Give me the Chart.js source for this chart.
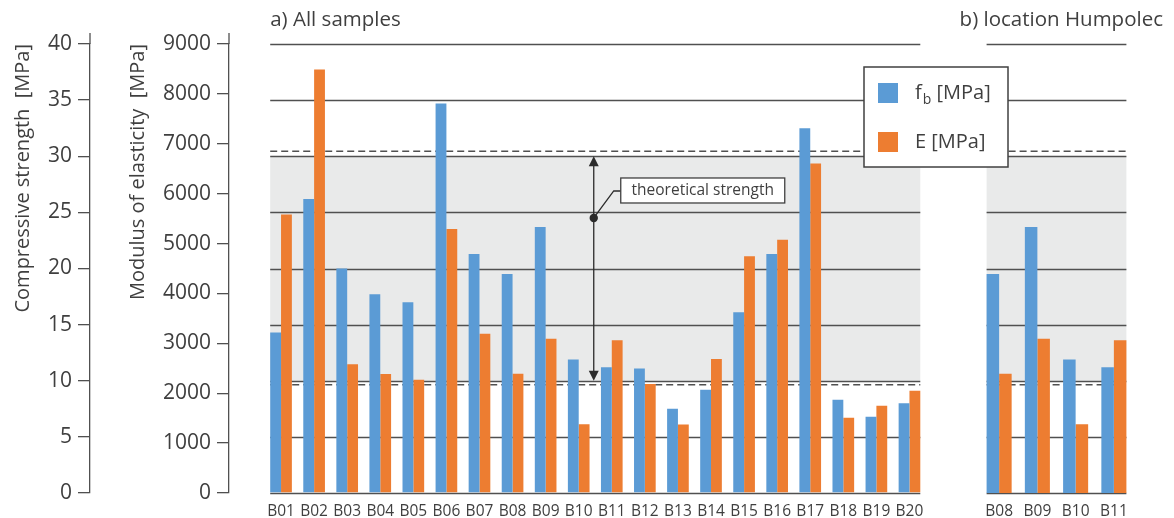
<!DOCTYPE html>
<html>
<head>
<meta charset="utf-8">
<script src="https://cdn.jsdelivr.net/npm/chart.js@4.4.1/dist/chart.umd.min.js"></script>
<style>
  html, body { margin: 0; padding: 0; background: #fff; }
  #wrap { position: relative; width: 1174px; height: 518px; }
  #wrap canvas { position: absolute; left: 0; top: 0; }
</style>
</head>
<body>
<div id="wrap">
  <canvas id="allSamples" width="1174" height="518"></canvas>
  <canvas id="humpolec" width="1174" height="518"></canvas>
</div>
<script>
// ---- data ----
const samples = ['B01','B02','B03','B04','B05','B06','B07','B08','B09','B10',
                 'B11','B12','B13','B14','B15','B16','B17','B18','B19','B20'];
// compressive strength f_b [MPa]
const strengthFb = [14.3, 26.2, 20.0, 17.7, 17.0, 34.7, 21.3, 19.5, 23.7, 11.9,
                    11.2, 11.1, 7.5, 9.2, 16.1, 21.3, 32.5, 8.3, 6.8, 8.0];
// modulus of elasticity E [MPa]
const modulusE = [5580, 8490, 2580, 2385, 2270, 5290, 3190, 2390, 3090, 1380,
                  3060, 2185, 1375, 2685, 4745, 5075, 6605, 1510, 1750, 2050];
// samples taken at the Humpolec location
const humpolecSamples = ['B08', 'B09', 'B10', 'B11'];
const humpolecFb = humpolecSamples.map(s => strengthFb[samples.indexOf(s)]);
const humpolecE = humpolecSamples.map(s => modulusE[samples.indexOf(s)]);

// axis ranges / tick steps
const strengthRange = [0, 40], strengthStep = 5;
const modulusRange = [0, 9000], modulusStep = 1000;

// theoretical strength band, its dashed limits and the marker on the arrow [MPa]
const theoreticalRange = [10, 30];
const limitLines = [9.65, 30.45];
const markerValue = 24.5;

const panelTitles = ['a) All samples', 'b) location Humpolec'];
const seriesLabels = ['f_b [MPa]', 'E [MPa]'];

// ---- styling ----
const FONT = '"Open Sans", "DejaVu Sans", sans-serif';
const TEXT = '#3f3f3f';
const LINE = '#505050';
const BLUE = '#5b9bd5';
const ORANGE = '#ed7d31';
const BAND = '#e9eaea';
const TOP = 44, XAXIS_H = 25;

Chart.defaults.font.family = FONT;
Chart.defaults.color = TEXT;

function barSpan(chart) {
  const first = chart.getDatasetMeta(0).data[0];
  const m = chart.getDatasetMeta(chart.data.datasets.length - 1);
  const last = m.data[m.data.length - 1];
  return { left: first.x - first.width / 2, right: last.x + last.width / 2 };
}

// band, grid lines and dashed limits behind the bars
const panelBackground = {
  id: 'panelBackground',
  beforeDatasetsDraw(chart) {
    const { ctx } = chart;
    const ys = chart.scales.y;
    const { left, right } = barSpan(chart);
    ctx.save();
    const yTop = ys.getPixelForValue(theoreticalRange[1]);
    const yBot = ys.getPixelForValue(theoreticalRange[0]);
    ctx.fillStyle = BAND;
    ctx.fillRect(left, yTop, right - left, yBot - yTop);

    ctx.strokeStyle = LINE;
    ctx.lineWidth = 1.3;
    ys.ticks.forEach(t => {
      const y = Math.round(ys.getPixelForValue(t.value)) + 0.5;
      ctx.beginPath();
      ctx.moveTo(left, y);
      ctx.lineTo(right, y);
      ctx.stroke();
    });

    ctx.setLineDash([7, 4]);
    ctx.lineWidth = 1.5;
    limitLines.forEach(v => {
      const y = ys.getPixelForValue(v);
      ctx.beginPath();
      ctx.moveTo(left, y);
      ctx.lineTo(right, y);
      ctx.stroke();
    });
    ctx.restore();
  }
};

// panel heading above the plot
function panelTitle(text, indent) {
  return {
    id: 'panelTitle',
    afterDraw(chart) {
      const { ctx } = chart;
      const { left } = barSpan(chart);
      ctx.save();
      ctx.font = '20.5px ' + FONT;
      ctx.fillStyle = TEXT;
      ctx.textBaseline = 'middle';
      ctx.textAlign = 'left';
      ctx.fillText(text, left + indent, 20);
      ctx.restore();
    }
  };
}

// axis lines run a little above the top tick
const axisCaps = {
  id: 'axisCaps',
  afterDraw(chart) {
    const { ctx, chartArea } = chart;
    ctx.save();
    ctx.strokeStyle = LINE;
    ctx.lineWidth = 1.3;
    ['y', 'y2'].forEach(id => {
      const s = chart.scales[id];
      const x = s.right;
      ctx.beginPath();
      ctx.moveTo(x, chartArea.top - 11);
      ctx.lineTo(x, chartArea.top);
      ctx.stroke();
    });
    ctx.restore();
  }
};

// double arrow with the "theoretical strength" call-out
const strengthArrow = {
  id: 'strengthArrow',
  afterDatasetsDraw(chart) {
    const { ctx } = chart;
    const xs = chart.scales.x, ys = chart.scales.y;
    const x = (xs.getPixelForValue(9) + xs.getPixelForValue(10)) / 2 - 1.5;
    const yTop = ys.getPixelForValue(theoreticalRange[1]);
    const yBot = ys.getPixelForValue(theoreticalRange[0]);
    const yDot = ys.getPixelForValue(markerValue);
    ctx.save();
    ctx.strokeStyle = '#2b2b2b';
    ctx.fillStyle = '#2b2b2b';
    ctx.lineWidth = 1.3;
    ctx.beginPath();
    ctx.moveTo(x, yTop + 8);
    ctx.lineTo(x, yBot - 8);
    ctx.stroke();
    // arrow heads
    ctx.beginPath();
    ctx.moveTo(x, yTop);
    ctx.lineTo(x - 5, yTop + 10);
    ctx.lineTo(x + 5, yTop + 10);
    ctx.closePath();
    ctx.fill();
    ctx.beginPath();
    ctx.moveTo(x, yBot);
    ctx.lineTo(x - 5, yBot - 10);
    ctx.lineTo(x + 5, yBot - 10);
    ctx.closePath();
    ctx.fill();
    // marker dot
    ctx.beginPath();
    ctx.arc(x, yDot, 4.2, 0, Math.PI * 2);
    ctx.fill();
    // leader line
    const boxX = x + 27, boxY = yDot - 40, boxW = 164, boxH = 25;
    ctx.beginPath();
    ctx.moveTo(x, yDot);
    ctx.lineTo(x + 20, yDot - 27);
    ctx.lineTo(boxX, yDot - 27);
    ctx.stroke();
    // label box
    ctx.fillStyle = '#fff';
    ctx.fillRect(boxX, boxY, boxW, boxH);
    ctx.strokeStyle = '#404040';
    ctx.lineWidth = 1.3;
    ctx.strokeRect(boxX, boxY, boxW, boxH);
    ctx.fillStyle = TEXT;
    ctx.font = '15.5px ' + FONT;
    ctx.textAlign = 'center';
    ctx.textBaseline = 'middle';
    ctx.fillText('theoretical strength', boxX + boxW / 2, boxY + boxH / 2 + 0.5);
    ctx.restore();
  }
};

// boxed legend drawn on top of both panels
const boxedLegend = {
  id: 'boxedLegend',
  afterDraw(chart) {
    const { ctx } = chart;
    const bx = 864, by = 67, bw = 144, bh = 100;
    ctx.save();
    ctx.fillStyle = '#fff';
    ctx.fillRect(bx, by, bw, bh);
    ctx.strokeStyle = '#404040';
    ctx.lineWidth = 1.5;
    ctx.strokeRect(bx, by, bw, bh);
    chart.data.datasets.forEach((ds, i) => {
      const cy = by + 26 + i * 49;
      ctx.fillStyle = ds.backgroundColor;
      ctx.fillRect(bx + 14, cy - 10, 20, 20);
      ctx.fillStyle = TEXT;
      ctx.textBaseline = 'middle';
      ctx.textAlign = 'left';
      let tx = bx + 51;
      const parts = ds.label.split('_');
      ctx.font = '20px ' + FONT;
      if (parts.length > 1) {
        ctx.fillText(parts[0], tx, cy);
        tx += ctx.measureText(parts[0]).width + 1;
        const sub = parts[1].charAt(0);
        ctx.font = '14px ' + FONT;
        ctx.fillText(sub, tx, cy + 7);
        tx += ctx.measureText(sub).width;
        ctx.font = '20px ' + FONT;
        ctx.fillText(parts[1].slice(1), tx, cy);
      } else {
        ctx.fillText(ds.label, tx, cy);
      }
    });
    ctx.restore();
  }
};

const yTickFont = { family: FONT, size: 21 };
const titleFont = { family: FONT, size: 20 };
const plainNumber = v => String(v);

function datasets(fb, e) {
  return [
    { label: seriesLabels[0], data: fb, backgroundColor: BLUE, yAxisID: 'y',
      categoryPercentage: 0.655, barPercentage: 1.0 },
    { label: seriesLabels[1], data: e, backgroundColor: ORANGE, yAxisID: 'y2',
      categoryPercentage: 0.655, barPercentage: 1.0 }
  ];
}

const xAxis = {
  type: 'category',
  offset: true,
  grid: { display: false },
  border: { display: false },
  ticks: { color: TEXT, font: { family: FONT, size: 15.5 }, padding: 1,
           autoSkip: false, maxRotation: 0 },
  afterFit: s => { s.height = XAXIS_H; }
};

new Chart(document.getElementById('allSamples'), {
  type: 'bar',
  data: { labels: samples, datasets: datasets(strengthFb, modulusE) },
  options: {
    responsive: false,
    animation: false,
    layout: { padding: { left: 0, right: 248, top: TOP, bottom: 0 } },
    plugins: { legend: { display: false }, tooltip: { enabled: false } },
    scales: {
      x: xAxis,
      y: {
        type: 'linear', position: 'left', weight: 2,
        min: strengthRange[0], max: strengthRange[1],
        ticks: { stepSize: strengthStep, color: TEXT, font: yTickFont, padding: 6,
                 callback: plainNumber },
        grid: { drawOnChartArea: false, tickLength: 12, color: LINE, lineWidth: 1.3 },
        border: { color: LINE, width: 1.3 },
        title: { display: true, text: 'Compressive strength  [MPa]', align: 'end',
                 color: TEXT, font: titleFont, padding: { top: 11 } },
        afterFit: s => { s.width = 90; }
      },
      y2: {
        type: 'linear', position: 'left', weight: 1,
        min: modulusRange[0], max: modulusRange[1],
        ticks: { stepSize: modulusStep, color: TEXT, font: yTickFont, padding: 6,
                 callback: plainNumber },
        grid: { drawOnChartArea: false, tickLength: 12, color: LINE, lineWidth: 1.3 },
        border: { color: LINE, width: 1.3 },
        title: { display: true, text: 'Modulus of elasticity  [MPa]', align: 'end',
                 color: TEXT, font: titleFont, padding: { top: 36 } },
        afterFit: s => { s.width = 139; }
      },
      gap: {
        type: 'linear', position: 'left', weight: 0,
        grid: { display: false }, border: { display: false },
        ticks: { display: false },
        afterFit: s => { s.width = 35.5; }
      }
    }
  },
  plugins: [panelBackground, panelTitle(panelTitles[0], 0), axisCaps, strengthArrow]
});

new Chart(document.getElementById('humpolec'), {
  type: 'bar',
  data: { labels: humpolecSamples, datasets: datasets(humpolecFb, humpolecE) },
  options: {
    responsive: false,
    animation: false,
    layout: { padding: { left: 980, right: 41, top: TOP, bottom: 0 } },
    plugins: { legend: { display: false }, tooltip: { enabled: false } },
    scales: {
      x: xAxis,
      y: { type: 'linear', display: false, min: strengthRange[0], max: strengthRange[1],
           ticks: { stepSize: strengthStep } },
      y2: { type: 'linear', display: false, min: modulusRange[0], max: modulusRange[1],
            ticks: { stepSize: modulusStep } }
    }
  },
  plugins: [panelBackground, panelTitle(panelTitles[1], -27), boxedLegend]
});
</script>
</body>
</html>
